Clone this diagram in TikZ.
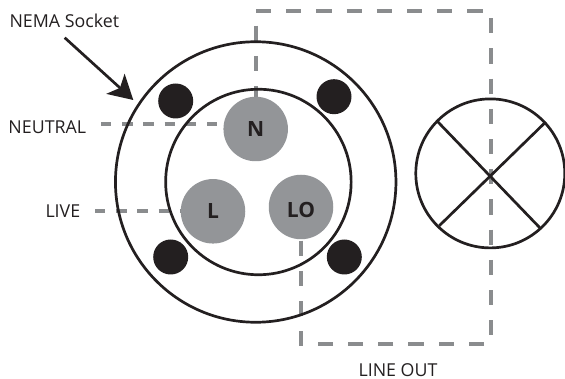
\documentclass[tikz,border=0pt]{standalone}
\usepackage{fontspec}
\setmainfont{Open Sans}
\usetikzlibrary{arrows.meta}
\definecolor{ink}{HTML}{231F20}
\definecolor{pin}{HTML}{939598}
\definecolor{wire}{HTML}{8A8C8E}
\tikzset{
  ring/.style={circle,draw=ink,line width=2.7pt,fill=none,inner sep=0pt,outer sep=0pt},
  screw/.style={circle,fill=ink,minimum size=35pt,inner sep=0pt,outer sep=0pt},
  contact/.style={circle,fill=pin,minimum size=64.5pt,inner sep=0pt,outer sep=0pt,text=ink,font=\fontsize{21}{21}\selectfont\bfseries},
  label/.style={inner sep=0pt,outer sep=0pt,text=ink,font=\fontsize{17.8}{17.8}\selectfont},
  wirev/.style={draw=wire,line width=4.3pt,dash pattern=on 15.2pt off 15pt},
  wireh/.style={draw=wire,line width=4.3pt,dash pattern=on 10.4pt off 10.8pt},
  crossline/.style={draw=ink,line width=2.7pt},
  pointer/.style={draw=ink,line width=2.7pt,-{Stealth[length=24pt,width=27pt,inset=6pt]}}
}
\begin{document}
\begin{tikzpicture}[x=1pt,y=-1pt]
\useasboundingbox (0,0) rectangle (565,379);
% free ends of the wires
\coordinate (topL) at (256,11);
\coordinate (topR) at (483.5,11);
\coordinate (neutralUp) at (255.7,25.7);
\coordinate (lampUp) at (491.3,18.3);
\coordinate (lampDown) at (491.3,336);
\coordinate (botR) at (484,344);
\coordinate (botL) at (318,344);
\coordinate (loDown) at (300.7,346);
\coordinate (neutralFrom) at (101,124.3);
\coordinate (liveFrom) at (95,211.3);
\coordinate (pointerFrom) at (64.7,37.7);
\coordinate (pointerTo) at (133.3,100);
\coordinate (xa) at (437.7,121.7);
\coordinate (xb) at (541,229);
\coordinate (xc) at (545.7,122);
\coordinate (xd) at (439.3,225.7);
% contact positions, needed for wire ends
\path (255.7,129) coordinate (Npos) (213,211.3) coordinate (Lpos) (301,207) coordinate (LOpos);
% wires below everything
\draw[wirev] (topL) -- (topR);
\draw[wirev] (neutralUp) -- (Npos);
\draw[wirev] (lampUp) -- (lampDown);
\draw[wirev] (botR) -- (botL);
\draw[wirev] (300.7,240.7) -- (loDown);
\draw[wireh] (neutralFrom) -- (neutralFrom -| Npos);
\draw[wireh] (liveFrom) -- (Lpos);
% socket
\node[ring,minimum size=280.5pt] (outer) at (255.7,182) {};
\node[ring,minimum size=185.5pt] (inner) at (258.4,182) {};
\node[screw] (s1) at (175.7,101) {};
\node[screw] (s2) at (334,96.7) {};
\node[screw] (s3) at (170.7,257) {};
\node[screw] (s4) at (344.3,257) {};
\node[contact] (N) at (Npos) {N};
\node[contact] (L) at (Lpos) {L};
\node[contact] (LO) at (LOpos) {\rule{0pt}{21pt}LO};
% lamp
\node[ring,minimum size=149pt] (lamp) at (490.3,173.4) {};
\draw[crossline] (xa) -- (xb);
\draw[crossline] (xc) -- (xd);
% labels
\node[label,anchor=west] (nema) at (9.5,21) {NEMA Socket};
\node[label,anchor=west] (neutral) at (8.5,127) {NEUTRAL};
\node[label,anchor=west] (live) at (45.5,211) {LIVE};
\node[label] (lineout) at (398,370) {LINE OUT};
\draw[pointer] (pointerFrom) -- (pointerTo);
\end{tikzpicture}
\end{document}
